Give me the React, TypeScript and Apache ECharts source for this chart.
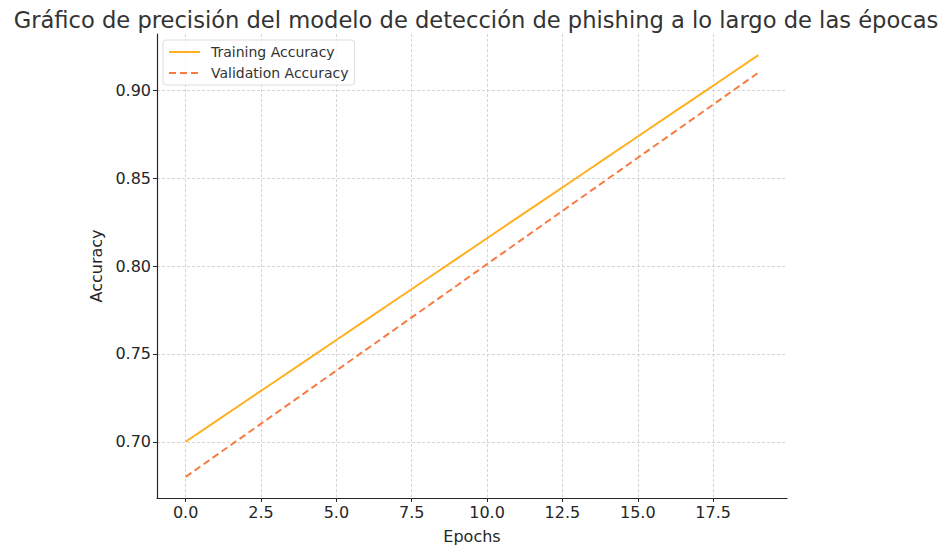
import React, { useEffect, useRef } from "react";
import * as echarts from "echarts";

const epochs = [0, 1, 2, 3, 4, 5, 6, 7, 8, 9, 10, 11, 12, 13, 14, 15, 16, 17, 18, 19];
const trainingAccuracy = [0.7, 0.7116, 0.7232, 0.7347, 0.7463, 0.7579, 0.7695, 0.7811, 0.7926, 0.8042, 0.8158, 0.8274, 0.8389, 0.8505, 0.8621, 0.8737, 0.8853, 0.8968, 0.9084, 0.92];
const validationAccuracy = [0.68, 0.6921, 0.7042, 0.7163, 0.7284, 0.7405, 0.7526, 0.7647, 0.7768, 0.7889, 0.8011, 0.8132, 0.8253, 0.8374, 0.8495, 0.8616, 0.8737, 0.8858, 0.8979, 0.91];
const xTicks = [0, 2.5, 5, 7.5, 10, 12.5, 15, 17.5];
const yTicks = [0.7, 0.75, 0.8, 0.85, 0.9];
const seriesNames = ["Training Accuracy", "Validation Accuracy"];
const titleText = "Gráfico de precisión del modelo de detección de phishing a lo largo de las épocas";

const FONT = "DejaVu Sans";

export default function App() {
  const ref = useRef<HTMLDivElement>(null);
  useEffect(() => {
    if (!ref.current) return;
    const chart = echarts.init(ref.current, undefined, { renderer: "svg" });
    const gridLine = { show: true, lineStyle: { color: "#cccccc", type: [3, 2] as any, width: 0.8 } };
    chart.setOption({
      animation: false,
      backgroundColor: "#ffffff",
      title: {
        text: titleText,
        left: 471,
        textAlign: "center",
        top: 3,
        textStyle: { fontFamily: FONT, fontSize: 22.6, fontWeight: "normal", color: "#333333" },
      },
      legend: {
        orient: "vertical",
        left: 163,
        top: 40,
        itemWidth: 31,
        itemHeight: 10,
        itemGap: 7,
        padding: [5, 6, 5, 5],
        borderColor: "#dddddd",
        borderWidth: 1,
        borderRadius: 3,
        backgroundColor: "rgba(255,255,255,0.8)",
        itemStyle: { opacity: 0 },
        textStyle: { fontFamily: FONT, fontSize: 14, color: "#333333", padding: [0, 0, 0, 6] },
        data: seriesNames,
      },
      grid: { left: 157, right: 154, top: 34, bottom: 45, containLabel: false },
      xAxis: {
        type: "value",
        min: -0.95,
        max: 19.95,
        name: "Epochs",
        nameLocation: "middle",
        nameGap: 30,
        nameTextStyle: { fontFamily: FONT, fontSize: 16, color: "#262626" },
        axisLine: { show: true, onZero: false, lineStyle: { color: "#262626", width: 1.2 } },
        axisTick: { show: true, length: 4, customValues: xTicks, lineStyle: { color: "#262626" } },
        axisLabel: {
          customValues: xTicks,
          fontFamily: FONT,
          fontSize: 16,
          color: "#262626",
          margin: 6,
          formatter: (v: number) => v.toFixed(1),
        },
        splitLine: gridLine,
      },
      yAxis: {
        type: "value",
        min: 0.668,
        max: 0.932,
        name: "Accuracy",
        nameLocation: "middle",
        nameGap: 50,
        nameTextStyle: { fontFamily: FONT, fontSize: 16, color: "#262626" },
        axisLine: { show: true, onZero: false, lineStyle: { color: "#262626", width: 1.2 } },
        axisTick: { show: true, length: 4, customValues: yTicks, lineStyle: { color: "#262626" } },
        axisLabel: {
          customValues: yTicks,
          fontFamily: FONT,
          fontSize: 16,
          color: "#262626",
          margin: 6,
          formatter: (v: number) => v.toFixed(2),
        },
        splitLine: gridLine,
      },
      series: [
        {
          name: seriesNames[0],
          type: "line",
          data: epochs.map((e, i) => [e, trainingAccuracy[i]]),
          showSymbol: false,
          symbol: "none",
          color: "#ffb01f",
          lineStyle: { color: "#ffb01f", width: 2 },
        },
        {
          name: seriesNames[1],
          type: "line",
          data: epochs.map((e, i) => [e, validationAccuracy[i]]),
          showSymbol: false,
          symbol: "none",
          color: "#f77b43",
          lineStyle: { color: "#f77b43", width: 2, type: [7, 4] as any },
        },
      ],
    });
    return () => chart.dispose();
  }, []);
  return <div ref={ref} style={{ width: 941, height: 549, position: "absolute", left: 0, top: 0 }} />;
}
